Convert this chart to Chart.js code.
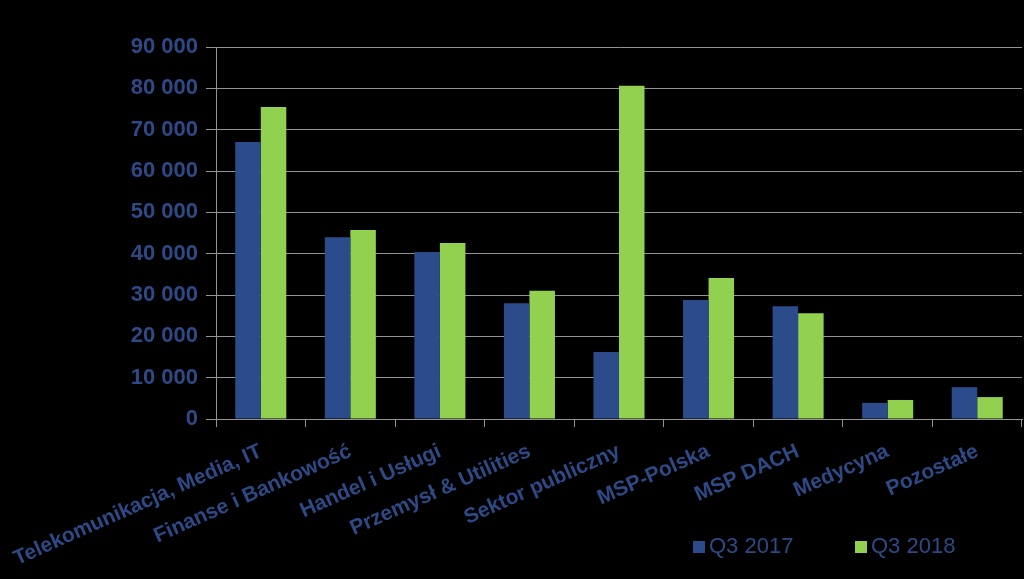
<!DOCTYPE html>
<html>
<head>
<meta charset="utf-8">
<script src="https://cdn.jsdelivr.net/npm/chart.js@4/dist/chart.umd.min.js"></script>
<style>
  html, body { margin: 0; padding: 0; background: #000; }
  canvas { display: block; background: #000; }
</style>
</head>
<body>
<canvas id="sectors-chart" width="1024" height="579"></canvas>
<script>
// data
const categories = ['Telekomunikacja, Media, IT', 'Finanse i Bankowość', 'Handel i Usługi',
    'Przemysł & Utilities', 'Sektor publiczny', 'MSP-Polska', 'MSP DACH', 'Medycyna', 'Pozostałe'];
const q3_2017 = [67000, 44000, 40400, 28000, 16200, 28800, 27300, 3900, 7700];
const q3_2018 = [75500, 45700, 42600, 31000, 80600, 34100, 25600, 4600, 5300];
const seriesLabels = ['Q3 2017', 'Q3 2018'];
const yTicks = { min: 0, max: 90000, step: 10000 };

const TEXT = '#2d4a86';
const GRID = '#939393';

// thousands with a space: 90 000
const fmt = v => String(v).replace(/\B(?=(\d{3})+(?!\d))/g, ' ');

// legend drawn by hand, bottom right under the labels
const bottomLegend = {
    id: 'bottomLegend',
    afterDraw(chart) {
        const ctx = chart.ctx;
        const slots = [693, 855];
        ctx.save();
        ctx.font = '22px "Liberation Sans", Arial, sans-serif';
        ctx.textBaseline = 'middle';
        chart.data.datasets.forEach((ds, i) => {
            const x = slots[i];
            ctx.fillStyle = ds.backgroundColor;
            ctx.fillRect(x, 541, 12, 12);
            ctx.fillStyle = TEXT;
            ctx.fillText(ds.label, x + 16, 547);
        });
        ctx.restore();
    }
};

const ctx = document.getElementById('sectors-chart').getContext('2d');
new Chart(ctx, {
    type: 'bar',
    data: {
        labels: categories,
        datasets: [
            { label: seriesLabels[0], data: q3_2017, backgroundColor: '#2c4b8b' },
            { label: seriesLabels[1], data: q3_2018, backgroundColor: '#92d050' }
        ]
    },
    options: {
        responsive: false,
        animation: false,
        layout: { padding: { top: 47, right: 2, bottom: 0, left: 0 } },
        datasets: { bar: { categoryPercentage: 0.57, barPercentage: 1.0 } },
        plugins: {
            legend: { display: false },
            tooltip: { enabled: false }
        },
        scales: {
            x: {
                grid: { display: true, offset: true, drawOnChartArea: false, color: GRID, tickLength: 8 },
                border: { display: true, color: GRID, width: 1 },
                ticks: {
                    color: TEXT,
                    font: { family: '"Liberation Sans", Arial, sans-serif', size: 21, weight: 'bold' },
                    minRotation: 24, maxRotation: 24,
                    autoSkip: false,
                    padding: 12
                },
                // the labels hang down into the free corner; fix the band height
                afterFit: scale => { scale.height = 160; scale.paddingLeft = 0; }
            },
            y: {
                min: yTicks.min, max: yTicks.max,
                grid: { color: GRID, lineWidth: 1, tickLength: 10 },
                border: { display: true, color: GRID, width: 1 },
                ticks: {
                    stepSize: yTicks.step,
                    color: TEXT,
                    padding: 8,
                    font: { family: '"Liberation Sans", Arial, sans-serif', size: 22, weight: 'bold' },
                    callback: v => fmt(v)
                },
                afterFit: scale => { scale.width = 216; }
            }
        }
    },
    plugins: [bottomLegend]
});
</script>
</body>
</html>
